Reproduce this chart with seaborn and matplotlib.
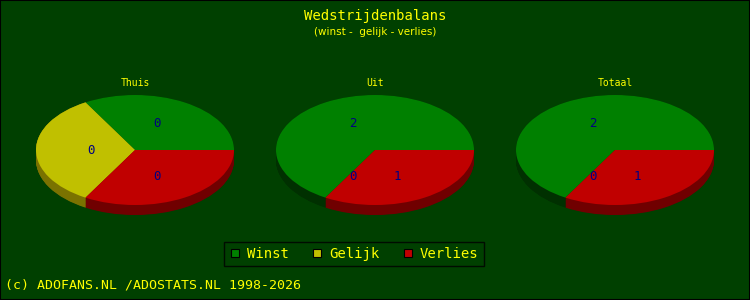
import numpy as np
import matplotlib
matplotlib.use("Agg")
import matplotlib.pyplot as plt
import seaborn as sns
from matplotlib.lines import Line2D

# ---- data ----
categories = ["Winst", "Gelijk", "Verlies"]
pie_titles = ["Thuis", "Uit", "Totaal"]
thuis = [0, 0, 0]
uit = [2, 0, 1]
totaal = [2, 0, 1]
series = [thuis, uit, totaal]
title = "Wedstrijdenbalans"
subtitle = "(winst -  gelijk - verlies)"
footer = "(c) ADOFANS.NL /ADOSTATS.NL 1998-2026"

# ---- style ----
sns.set_style("dark")
BG = "#004000"
top_colors = sns.color_palette(["#008000", "#c0c000", "#c00000"])
side_colors = sns.color_palette(["#003000", "#7a7200", "#700000"])
YELLOW = "#ffff00"
LABEL = "#000080"
MONO = "DejaVu Sans Mono"

W, H = 750, 300
fig = plt.figure(figsize=(W / 100, H / 100), dpi=100, facecolor=BG)

# border
fig.add_artist(plt.Rectangle((0, 0), 1, 1, transform=fig.transFigure,
                             fill=False, edgecolor="black", linewidth=1.5))

fig.text(375 / W, 1 - 16 / H, title, color=YELLOW, fontsize=10, family=MONO,
         ha="center", va="center")
fig.text(375 / W, 1 - 32 / H, subtitle, color=YELLOW, fontsize=7.5,
         family="DejaVu Sans", ha="center", va="center")

centers_x = [135, 375, 615]
cy, rx, ry, depth = 150, 99, 55, 10

for cx, vals, ptitle in zip(centers_x, series, pie_titles):
    left = (cx - rx) / W
    bottom = 1 - (cy + ry + depth) / H
    ax = fig.add_axes([left, bottom, 2 * rx / W, (2 * ry + depth) / H])
    ax.set_facecolor("none")
    sizes = np.array(vals, dtype=float)
    if sizes.sum() == 0:
        sizes = np.ones_like(sizes)
    d = depth / ry
    for t in np.linspace(d, 0.0, 25):
        ax.pie(sizes, colors=side_colors, startangle=0, counterclock=True,
               center=(0, -t), radius=1, wedgeprops=dict(linewidth=0))
    ax.pie(sizes, colors=top_colors, startangle=0, counterclock=True,
           center=(0, 0), radius=1, wedgeprops=dict(linewidth=0))
    ax.set_aspect("auto")
    ax.set_xlim(-1, 1)
    ax.set_ylim(-1 - d, 1)
    ax.axis("off")
    # labels
    fr = sizes / sizes.sum()
    start = 0.0
    for v, f in zip(vals, fr):
        mid = np.deg2rad((start + f / 2) * 360)
        ax.text(0.44 * np.cos(mid), 0.56 * np.sin(mid), str(v), color=LABEL,
                fontsize=9, family=MONO, ha="center", va="center")
        start += f
    fig.text(cx / W, 1 - 83 / H, ptitle, color=YELLOW, fontsize=7,
             family=MONO, ha="center", va="center")

# legend
handles = [Line2D([0], [0], marker="s", linestyle="none", markersize=6,
                  markerfacecolor=c, markeredgecolor="black", markeredgewidth=0.8)
           for c in top_colors]
leg = fig.legend(handles, categories, loc="center", bbox_to_anchor=(354 / W, 1 - 254 / H),
                 ncol=3, frameon=True, facecolor=BG, edgecolor="black",
                 prop=dict(family=MONO, size=10), handlelength=0.8,
                 handletextpad=0.5, columnspacing=1.6, borderpad=0.35,
                 fancybox=False)
leg.get_frame().set_linewidth(1)
for t in leg.get_texts():
    t.set_color(YELLOW)

fig.text(5 / W, 1 - 285 / H, footer, color=YELLOW, fontsize=9.5, family=MONO,
         ha="left", va="center")

fig.savefig("out.png", dpi=100, facecolor=BG)
